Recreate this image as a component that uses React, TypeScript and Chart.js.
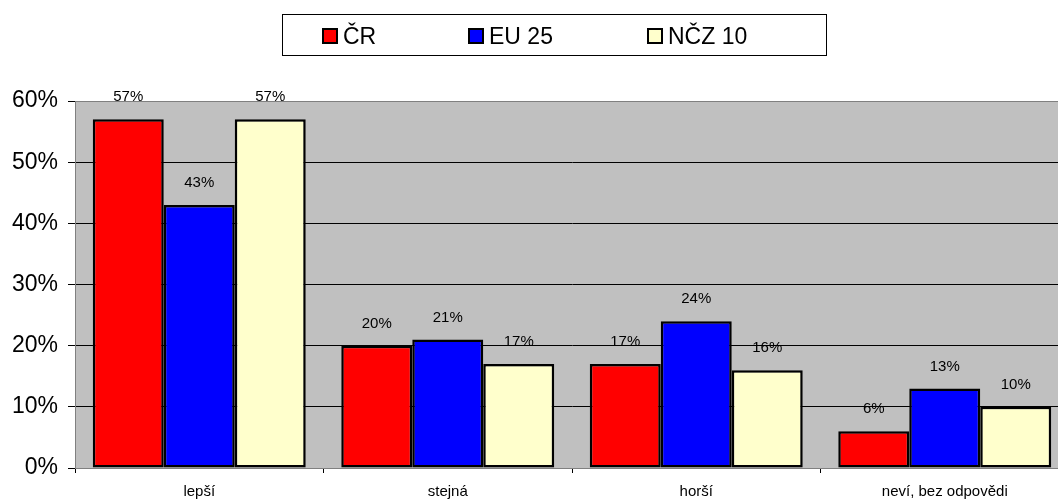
import React, { useEffect, useRef } from "react";
import { Chart, registerables } from "chart.js";

Chart.register(...registerables);

const categories = ["lepší", "stejná", "horší", "neví, bez odpovědi"];
const seriesNames = ["ČR", "EU 25", "NČZ 10"];
const crValues = [57, 20, 17, 6];
const eu25Values = [43, 21, 24, 13];
const ncz10Values = [57, 17, 16, 10];
const seriesColors = ["#FF0000", "#0000FF", "#FFFFCC"];
const yTicks = [0, 10, 20, 30, 40, 50, 60];

const FONT = "Arial, 'Liberation Sans', sans-serif";

const plotBg = {
  id: "plotBg",
  beforeDraw(chart: any) {
    const { ctx, chartArea } = chart;
    ctx.save();
    ctx.fillStyle = "#C0C0C0";
    ctx.fillRect(chartArea.left, chartArea.top, chartArea.right - chartArea.left, chartArea.bottom - chartArea.top);
    ctx.restore();
  },
  afterDraw(chart: any) {
    const { ctx, chartArea } = chart;
    ctx.save();
    ctx.strokeStyle = "#808080";
    ctx.lineWidth = 1;
    ctx.strokeRect(chartArea.left + 0.5, chartArea.top + 0.5, chartArea.right - chartArea.left, chartArea.bottom - chartArea.top);
    ctx.restore();
  },
};

const valueLabels = {
  id: "valueLabels",
  afterDatasetsDraw(chart: any) {
    const { ctx } = chart;
    ctx.save();
    ctx.fillStyle = "#000";
    ctx.font = `15px ${FONT}`;
    ctx.textAlign = "center";
    ctx.textBaseline = "middle";
    chart.data.datasets.forEach((ds: any, i: number) => {
      const meta = chart.getDatasetMeta(i);
      meta.data.forEach((bar: any, j: number) => {
        ctx.fillText(`${ds.data[j]}%`, bar.x, bar.y - 22);
      });
    });
    ctx.restore();
  },
};

export default function App() {
  const ref = useRef<HTMLCanvasElement | null>(null);

  useEffect(() => {
    if (!ref.current) return;
    const seriesData = [crValues, eu25Values, ncz10Values];
    const chart = new Chart(ref.current, {
      type: "bar",
      data: {
        labels: categories,
        datasets: seriesNames.map((name, i) => ({
          label: name,
          data: seriesData[i],
          backgroundColor: seriesColors[i],
          borderColor: "#000",
          borderWidth: 2.5,
          borderSkipped: false,
          categoryPercentage: 0.857,
          barPercentage: 1,
        })),
      },
      options: {
        responsive: false,
        animation: false,
        layout: { padding: { top: 101, right: 11, left: 0, bottom: 0 } },
        plugins: {
          legend: { display: false },
          tooltip: { enabled: false },
        },
        scales: {
          x: {
            grid: {
              display: true,
              drawOnChartArea: false,
              drawTicks: true,
              tickLength: 5,
              color: "#000",
              offset: true,
            },
            border: { color: "#000", width: 1 },
            ticks: {
              color: "#000",
              font: { family: FONT, size: 15 },
              padding: 10,
            },
            afterFit(scale: any) {
              scale.height = 32;
            },
          },
          y: {
            min: 0,
            max: 60,
            afterBuildTicks(scale: any) {
              scale.ticks = yTicks.map((v) => ({ value: v }));
            },
            grid: {
              color: "#000",
              lineWidth: 1,
              tickLength: 7,
              drawTicks: true,
            },
            border: { color: "#000", width: 1 },
            ticks: {
              color: "#000",
              font: { family: FONT, size: 23 },
              padding: 10,
              callback: (v: any) => `${v}%`,
            },
            afterFit(scale: any) {
              scale.width = 75;
            },
          },
        },
      },
      plugins: [plotBg, valueLabels],
    });
    return () => chart.destroy();
  }, []);

  return (
    <div style={{ position: "fixed", left: 0, top: 0, width: 1058, height: 500, overflow: "hidden", background: "#fff" }}>
      <canvas ref={ref} width={1080} height={500} style={{ position: "absolute", left: 0, top: 0, width: 1080, height: 500 }} />
      <div
        style={{
          position: "absolute",
          left: 282,
          top: 14,
          width: 543,
          height: 40,
          border: "1px solid #000",
          fontFamily: FONT,
          fontSize: 23,
          color: "#000",
        }}
      >
        {seriesNames.map((name, i) => (
          <div
            key={name}
            style={{
              position: "absolute",
              left: [39, 185, 364][i],
              top: 1,
              height: 40,
              display: "flex",
              alignItems: "center",
              whiteSpace: "nowrap",
            }}
          >
            <span
              style={{
                display: "inline-block",
                width: 12,
                height: 12,
                border: "2.5px solid #000",
                background: seriesColors[i],
                marginRight: 5,
              }}
            />
            <span>{name}</span>
          </div>
        ))}
      </div>
    </div>
  );
}
